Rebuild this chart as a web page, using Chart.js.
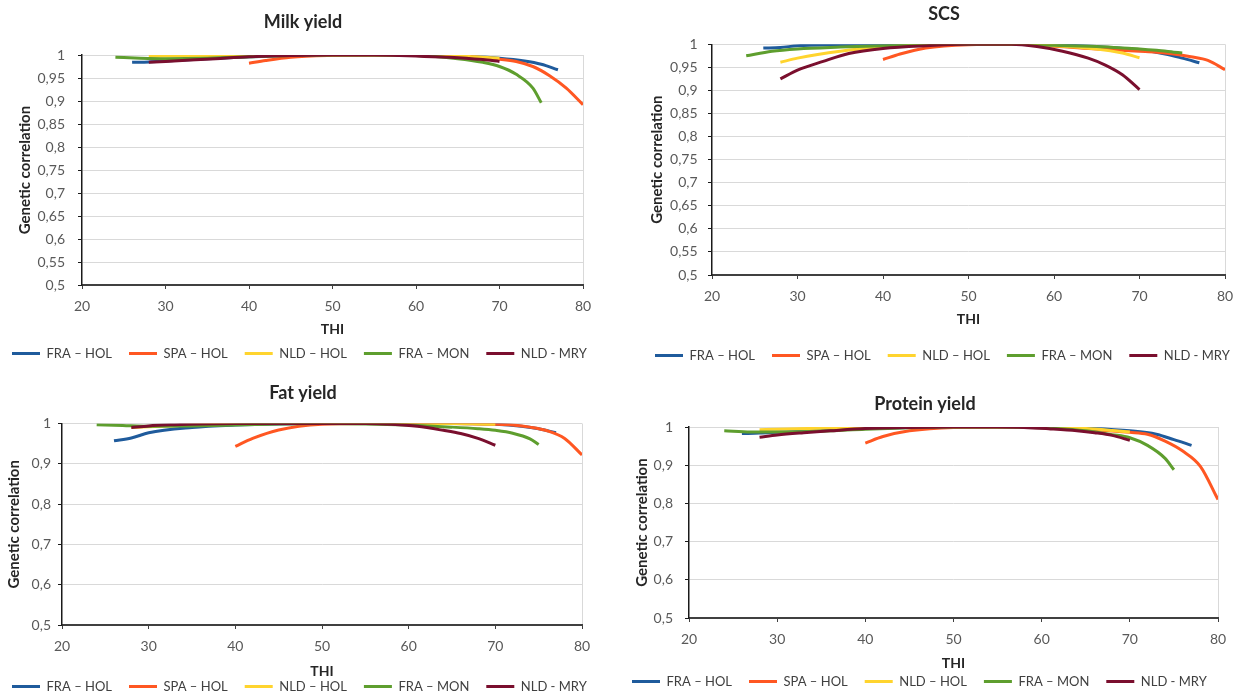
<!DOCTYPE html>
<html>
<head>
<meta charset="utf-8">
<script src="https://cdn.jsdelivr.net/npm/chart.js@4.4.1/dist/chart.umd.min.js"></script>
<style>
html, body { margin: 0; padding: 0; background: #fff; overflow: hidden; width: 1246px; height: 696px; }
canvas { position: absolute; }
</style>
</head>
<body>
<canvas id="milk" width="616" height="370" style="left:-5px;top:0px"></canvas>
<canvas id="scs" width="612" height="372" style="left:638px;top:0px"></canvas>
<canvas id="fat" width="616" height="333" style="left:-5px;top:370px"></canvas>
<canvas id="protein" width="620" height="318" style="left:615px;top:380px"></canvas>
<script>
// series
var seriesNames = ['FRA – HOL', 'SPA – HOL', 'NLD – HOL', 'FRA – MON', 'NLD - MRY'];
var seriesColors = ['#1F5B9C', '#FF5722', '#FFD42E', '#5E9E2E', '#7A0F2E'];

// THI values for each series
var thiFraHol = [26, 28, 30, 35, 40, 45, 50, 55, 60, 65, 70, 73, 75, 77];
var thiSpaHol = [40, 42, 45, 50, 55, 60, 65, 70, 72, 74, 76, 78, 80];
var thiNldHol = [28, 30, 35, 40, 45, 50, 55, 60, 65, 68, 70];
var thiFraMon = [24, 27, 30, 35, 40, 45, 50, 55, 60, 65, 68, 70, 72, 74, 75];
var thiNldMry = [28, 30, 33, 36, 40, 45, 50, 55, 58, 61, 64, 66, 68, 70];

// Milk yield
var milkFraHol = [0.984, 0.985, 0.987, 0.992, 0.996, 0.999, 1, 1, 1, 0.998, 0.993, 0.987, 0.980, 0.968];
var milkSpaHol = [0.982, 0.988, 0.995, 0.999, 1, 1, 0.998, 0.991, 0.986, 0.975, 0.955, 0.928, 0.892];
var milkNldHol = [0.997, 0.998, 0.999, 1, 1, 1, 1, 1, 0.998, 0.995, 0.993];
var milkFraMon = [0.995, 0.993, 0.992, 0.993, 0.996, 0.999, 1, 1, 0.999, 0.992, 0.984, 0.975, 0.958, 0.928, 0.896];
var milkNldMry = [0.984, 0.986, 0.989, 0.992, 0.996, 0.999, 1, 1, 0.999, 0.997, 0.995, 0.993, 0.990, 0.986];

// SCS
var scsFraHol = [0.992, 0.993, 0.997, 0.999, 1, 1, 1, 1, 0.999, 0.995, 0.988, 0.979, 0.970, 0.960];
var scsSpaHol = [0.967, 0.979, 0.992, 0.999, 1, 0.996, 0.990, 0.985, 0.983, 0.979, 0.973, 0.965, 0.945];
var scsNldHol = [0.961, 0.970, 0.985, 0.994, 0.999, 1, 1, 0.997, 0.990, 0.981, 0.971];
var scsFraMon = [0.975, 0.985, 0.990, 0.994, 0.997, 0.999, 1, 1, 0.998, 0.995, 0.992, 0.990, 0.987, 0.983, 0.981];
var scsNldMry = [0.925, 0.944, 0.963, 0.980, 0.991, 0.997, 1, 1, 0.995, 0.985, 0.970, 0.955, 0.934, 0.902];

// Fat yield
var fatFraHol = [0.957, 0.964, 0.977, 0.990, 0.996, 0.999, 1, 1, 1, 1, 0.998, 0.993, 0.987, 0.977];
var fatSpaHol = [0.943, 0.963, 0.984, 0.998, 1, 1, 1, 0.998, 0.996, 0.991, 0.982, 0.963, 0.922];
var fatNldHol = [0.990, 0.992, 0.996, 0.999, 1, 1, 1, 1, 1, 0.999, 0.998];
var fatFraMon = [0.997, 0.995, 0.993, 0.994, 0.996, 0.999, 1, 0.999, 0.996, 0.991, 0.987, 0.983, 0.976, 0.962, 0.948];
var fatNldMry = [0.990, 0.994, 0.997, 0.999, 1, 1, 1, 1, 0.998, 0.993, 0.983, 0.975, 0.963, 0.946];

// Protein yield
var protFraHol = [0.983, 0.984, 0.986, 0.991, 0.996, 0.999, 1, 1, 1, 0.997, 0.990, 0.981, 0.967, 0.952];
var protSpaHol = [0.958, 0.975, 0.990, 0.999, 1, 1, 0.994, 0.986, 0.981, 0.963, 0.937, 0.897, 0.810];
var protNldHol = [0.993, 0.994, 0.997, 0.999, 1, 1, 1, 1, 0.996, 0.991, 0.987];
var protFraMon = [0.990, 0.987, 0.987, 0.989, 0.994, 0.998, 1, 1, 0.998, 0.990, 0.980, 0.972, 0.952, 0.918, 0.888];
var protNldMry = [0.973, 0.979, 0.985, 0.990, 0.996, 0.999, 1, 1, 0.999, 0.995, 0.990, 0.985, 0.978, 0.965];

var thiLists = [thiFraHol, thiSpaHol, thiNldHol, thiFraMon, thiNldMry];

function toPoints(xs, ys) {
    return xs.map(function (x, i) { return {x: x, y: ys[i]}; });
}

function comma(v) {
    return String(Math.round(v * 100) / 100).replace('.', ',');
}

var FONT = 'Lato';

function drawPanel(id, title, values, yStep, g) {
    var datasets = values.map(function (ys, i) {
        return {
            label: seriesNames[i],
            data: toPoints(thiLists[i], ys),
            borderColor: seriesColors[i],
            backgroundColor: seriesColors[i],
            borderWidth: 3,
            pointRadius: 0,
            cubicInterpolationMode: 'monotone',
            order: -i   // later series drawn on top
        };
    });

    new Chart(document.getElementById(id), {
        type: 'line',
        data: {datasets: datasets},
        options: {
            responsive: false,
            animation: false,
            devicePixelRatio: 1,
            layout: {padding: 0},
            plugins: {
                title: {
                    display: true, text: title, color: '#262626',
                    font: {family: FONT, size: 18, weight: 'bold'},
                    padding: {top: g.titleTop, bottom: g.titleBottom}
                },
                legend: {
                    position: 'bottom', align: 'start',
                    labels: {
                        boxWidth: 28, boxHeight: 0, padding: 17, color: '#404040',
                        font: {family: FONT, size: 13},
                        sort: function (a, b) { return a.datasetIndex - b.datasetIndex; }
                    }
                },
                tooltip: {enabled: false}
            },
            scales: {
                x: {
                    type: 'linear', min: 20, max: 80,
                    ticks: {stepSize: 10, padding: 8.6, color: '#595959', font: {family: FONT, size: 14}},
                    grid: {
                        color: function (c) { return c.tick && c.tick.value === 80 ? '#d9d9d9' : 'rgba(0,0,0,0)'; },
                        tickColor: '#404040', tickLength: 4
                    },
                    border: {color: '#404040', width: 2},
                    title: {display: true, text: 'THI', color: '#262626',
                            font: {family: FONT, size: 14, weight: 'bold'},
                            padding: {top: 0, bottom: g.thiPad}},
                    afterFit: function (s) { s.height = g.xh; }
                },
                y: {
                    type: 'linear', min: 0.5, max: 1,
                    ticks: {stepSize: yStep, padding: g.ytickPad, color: '#595959',
                            font: {family: FONT, size: 14}, callback: comma},
                    grid: {
                        color: function (c) { return c.tick && c.tick.value <= 0.5001 ? 'rgba(0,0,0,0)' : '#d9d9d9'; },
                        tickColor: '#1a1a1a', tickLength: 4
                    },
                    border: {color: '#1a1a1a', width: 1.5},
                    title: {display: true, text: 'Genetic correlation', color: '#262626',
                            font: {family: FONT, size: 15, weight: 'bold'},
                            padding: {top: g.ytitlePad, bottom: 0}},
                    afterFit: function (s) { s.width = g.yw; }
                },
                yRight: {
                    type: 'linear', axis: 'y', position: 'right', display: true,
                    grid: {display: false}, border: {display: false}, ticks: {display: false},
                    afterFit: function (s) { s.width = g.rw; }
                }
            }
        }
    });
}

drawPanel('milk', 'Milk yield', [milkFraHol, milkSpaHol, milkNldHol, milkFraMon, milkNldMry], 0.05,
    {titleTop: 11.7, titleBottom: 21.7, yw: 87, rw: 28, xh: 45, thiPad: -7.4, ytitlePad: 21.6, ytickPad: 13});
drawPanel('scs', 'SCS', [scsFraHol, scsSpaHol, scsNldHol, scsFraMon, scsNldMry], 0.05,
    {titleTop: 3.2, titleBottom: 19.5, yw: 74, rw: 25, xh: 57, thiPad: 4.6, ytitlePad: 10.4, ytickPad: 10.4});
drawPanel('fat', 'Fat yield', [fatFraHol, fatSpaHol, fatNldHol, fatFraMon, fatNldMry], 0.1,
    {titleTop: 12.2, titleBottom: 19.7, yw: 67, rw: 29, xh: 38, thiPad: -16.4, ytitlePad: 9.8, ytickPad: 7});
drawPanel('protein', 'Protein yield', [protFraHol, protSpaHol, protNldHol, protFraMon, protNldMry], 0.1,
    {titleTop: 13.2, titleBottom: 12.2, yw: 74, rw: 17, xh: 40, thiPad: -13.4, ytitlePad: 17.7, ytickPad: 12});
</script>
</body>
</html>
